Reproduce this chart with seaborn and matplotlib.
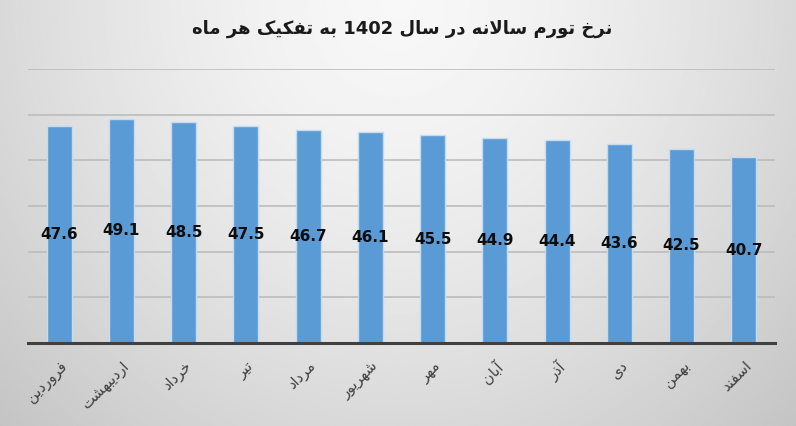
import numpy as np
import pandas as pd
import matplotlib
matplotlib.use('Agg')
import matplotlib.pyplot as plt
import seaborn as sns

# chart data
months = ['فروردین', 'اردیبهشت', 'خرداد', 'تیر', 'مرداد', 'شهریور',
          'مهر', 'آبان', 'آذر', 'دی', 'بهمن', 'اسفند']
inflation = [47.6, 49.1, 48.5, 47.5, 46.7, 46.1, 45.5, 44.9, 44.4, 43.6, 42.5, 40.7]
title_text = 'نرخ تورم سالانه در سال 1402 به تفکیک هر ماه'

# arabic presentation forms: isolated, final, initial, medial
FORMS = {
    'ا': ('\uFE8D', '\uFE8E'), 'آ': ('\uFE81', '\uFE82'),
    'ب': ('\uFE8F', '\uFE90', '\uFE91', '\uFE92'),
    'ت': ('\uFE95', '\uFE96', '\uFE97', '\uFE98'),
    'خ': ('\uFEA5', '\uFEA6', '\uFEA7', '\uFEA8'),
    'د': ('\uFEA9', '\uFEAA'), 'ذ': ('\uFEAB', '\uFEAC'),
    'ر': ('\uFEAD', '\uFEAE'), 'ز': ('\uFEAF', '\uFEB0'),
    'س': ('\uFEB1', '\uFEB2', '\uFEB3', '\uFEB4'),
    'ش': ('\uFEB5', '\uFEB6', '\uFEB7', '\uFEB8'),
    'ف': ('\uFED1', '\uFED2', '\uFED3', '\uFED4'),
    'ل': ('\uFEDD', '\uFEDE', '\uFEDF', '\uFEE0'),
    'م': ('\uFEE1', '\uFEE2', '\uFEE3', '\uFEE4'),
    'ن': ('\uFEE5', '\uFEE6', '\uFEE7', '\uFEE8'),
    'ه': ('\uFEE9', '\uFEEA', '\uFEEB', '\uFEEC'),
    'و': ('\uFEED', '\uFEEE'),
    'ی': ('\uFBFC', '\uFBFD', '\uFBFE', '\uFBFF'),
    'ک': ('\uFB8E', '\uFB8F', '\uFB90', '\uFB91'),
    'لا': ('\uFEFB', '\uFEFC'), 'لآ': ('\uFEF5', '\uFEF6'),
}


def shape_word(word):
    units = []
    i = 0
    while i < len(word):
        if word[i] == 'ل' and i + 1 < len(word) and word[i + 1] in 'اآ':
            units.append(word[i:i + 2])
            i += 2
        else:
            units.append(word[i])
            i += 1
    out = []
    for k, u in enumerate(units):
        if u not in FORMS:
            out.append(u)
            continue
        prev = units[k - 1] if k > 0 else None
        nxt = units[k + 1] if k + 1 < len(units) else None
        join_prev = prev in FORMS and len(FORMS[prev]) == 4
        join_next = nxt in FORMS and len(FORMS[u]) == 4
        f = FORMS[u]
        if join_prev and join_next:
            out.append(f[3])
        elif join_prev:
            out.append(f[1])
        elif join_next:
            out.append(f[2])
        else:
            out.append(f[0])
    return ''.join(out)


def rtl(text):
    words = []
    for w in text.split(' '):
        if any(c in FORMS for c in w):
            words.append(shape_word(w)[::-1])
        else:
            words.append(w)
    return ' '.join(words[::-1])


df = pd.DataFrame({'month': months, 'value': inflation})

sns.set_style('white')
plt.rcParams['font.family'] = ['DejaVu Sans']

fig = plt.figure(figsize=(7.96, 4.26), dpi=100)

# soft gray gradient background
bg = fig.add_axes([0, 0, 1, 1], zorder=-1)
gx, gy = np.meshgrid(np.linspace(-1, 1, 400), np.linspace(0, 1, 220))
r = np.sqrt((gx * 0.9) ** 2 + (gy * 0.9) ** 2)
bg.imshow(0.97 - 0.14 * np.clip(r, 0, 1.3) ** 1.5, cmap='gray', vmin=0, vmax=1,
          aspect='auto', extent=[0, 1, 0, 1], origin='upper')
bg.axis('off')

ax = fig.add_axes([0.0352, 0.195, 0.9384, 0.643])
ax.set_facecolor('none')

sns.barplot(data=df, x='month', y='value', color='#5b9bd5', width=0.4,
            edgecolor='#c5dcf0', linewidth=1, saturation=1, ax=ax, zorder=3)

ax.bar_label(ax.containers[0], labels=[f'{v:.1f}' for v in inflation],
             label_type='center', fontsize=11, fontweight='bold', color='#0d0d0d', zorder=4)

ax.set_ylim(0, 60)
ax.set_xlim(-0.5, len(months) - 0.5)
ax.set_yticks(range(0, 61, 10))
ax.yaxis.grid(True, color='#bcbcbc', linewidth=1.2, zorder=0)
ax.set_axisbelow(True)
ax.tick_params(axis='y', left=False, labelleft=False)
ax.tick_params(axis='x', length=0, pad=11)
ax.set_xticks(range(len(months)))
ax.set_xticklabels([rtl(m) for m in months], rotation=45, ha='right', va='top',
                   rotation_mode='anchor', fontsize=10.5, color='#404040')
ax.set_xlabel('')
ax.set_ylabel('')
for side in ['top', 'left', 'right']:
    ax.spines[side].set_visible(False)
ax.spines['bottom'].set_color('#404040')
ax.spines['bottom'].set_linewidth(2.2)
ax.spines['bottom'].set_zorder(5)

fig.text(0.505, 0.932, rtl(title_text), ha='center', va='center',
         fontsize=13, fontweight='bold', color='#1a1a1a')

fig.savefig('out.png', dpi=100)
